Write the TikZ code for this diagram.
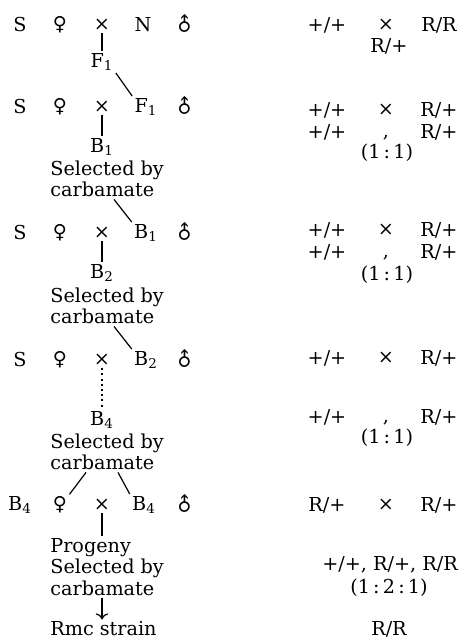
\documentclass[tikz,border=0pt]{standalone}
\usepackage{fontspec}
\setmainfont{DejaVu Serif}
\newfontfamily\symfont{DejaVu Sans}
\usetikzlibrary{calc, arrows.meta}

\newcommand{\femsym}{{\symfont ♀}}
\newcommand{\malsym}{{\symfont ♂}}

\begin{document}
\begin{tikzpicture}[x=0.5pt,y=-0.5pt,
  every node/.style={inner sep=1pt, font=\fontsize{9.6}{10.6}\selectfont},
  sel/.style={anchor=west, align=left},
  malesign/.style={rotate=45},
  link/.style={line width=0.6pt}]
\useasboundingbox (0,0) rectangle (468,639);
% left column: crossing scheme
\node (s1) at (20,25) {S};
\node (fe1) at (60,25) {\femsym};
\node (x1) at (102,25) {×};
\node (n1) at (143,25) {N};
\node[malesign] (ma1) at (185,25) {\malsym};
\node (f1a) at (102,62) {F\textsubscript{1}};
\draw[link] (x1) -- (f1a);
\node (s2) at (20,107) {S};
\node (fe2) at (60,107) {\femsym};
\node (x2) at (102,107) {×};
\node (f1b) at (146,107) {F\textsubscript{1}};
\node[malesign] (ma2) at (185,107) {\malsym};
\draw[link] (f1a.south east) -- (f1b.north west);
\node (b1a) at (102,147) {B\textsubscript{1}};
\draw[link] (x2) -- (b1a);
\node[sel] (sel1) at (48,179) {Selected by\\carbamate};
\node (s3) at (20,233) {S};
\node (fe3) at (60,233) {\femsym};
\node (x3) at (102,233) {×};
\node (b1b) at (146,233) {B\textsubscript{1}};
\node[malesign] (ma3) at (185,233) {\malsym};
\draw[link] ($(sel1.south -| x3)+(12,0)$) -- (b1b.north west);
\node (b2a) at (102,273) {B\textsubscript{2}};
\draw[link] (x3) -- (b2a);
\node[sel] (sel2) at (48,306) {Selected by\\carbamate};
\node (s4) at (20,360) {S};
\node (fe4) at (60,360) {\femsym};
\node (x4) at (102,360) {×};
\node (b2b) at (146,360) {B\textsubscript{2}};
\node[malesign] (ma4) at (185,360) {\malsym};
\draw[link] ($(sel2.south -| x4)+(12,0)$) -- (b2b.north west);
\node (b4a) at (102,420) {B\textsubscript{4}};
\draw[line width=1pt, dash pattern=on 1pt off 1.6pt] (x4) -- (b4a);
\node[sel] (sel3) at (48,452) {Selected by\\carbamate};
\node (b4l) at (20,505) {B\textsubscript{4}};
\node (fe5) at (60,505) {\femsym};
\node (x5) at (102,505) {×};
\node (b4r) at (144,505) {B\textsubscript{4}};
\node[malesign] (ma5) at (185,505) {\malsym};
\draw[link] ($(sel3.south -| x5)+(-16,0)$) -- (fe5.north east);
\draw[link] ($(sel3.south -| x5)+(16,0)$) -- (b4r.north west);
\node[sel] (prog) at (48,567) {Progeny\\Selected by\\carbamate};
\draw[link] (x5) -- (prog.north -| x5);
\node[sel] (rmc) at (48,629) {Rmc strain};
\draw[link,-{To[length=3pt]}] (prog.south -| x5) -- (rmc.north -| x5);
% right column: genotypes
\node (pa1) at (327,25) {+/+};
\node (cx1) at (386,25) {×};
\node (rr1) at (439,25) {R/R};
\node (rp1) at (389,46) {R/+};
\foreach \n/\y in {2/110, 3/230, 4/358}{
  \node (pa\n) at (327,\y) {+/+};
  \node (cx\n) at (386,\y) {×};
  \node (rp\n) at (439,\y) {R/+};
}
\foreach \n/\y in {2/132, 3/252, 4/417}{
  \node (qa\n) at (327,\y) {+/+};
  \node (cm\n) at (386,\y) {\vphantom{R/+},};
  \node (qr\n) at (439,\y) {R/+};
}
\foreach \n/\y in {2/153, 3/275, 4/438}{
  \node (ra\n) at (387,\y) {(1\,:\,1)};
}
\node (pa5) at (327,505) {R/+};
\node (cx5) at (386,505) {×};
\node (rp5) at (439,505) {R/+};
\node (off5) at (390,565) {+/+, R/+, R/R};
\node (ra5) at (389,588) {(1\,:\,2\,:\,1)};
\node (rr5) at (389,629) {R/R};
\end{tikzpicture}
\end{document}
